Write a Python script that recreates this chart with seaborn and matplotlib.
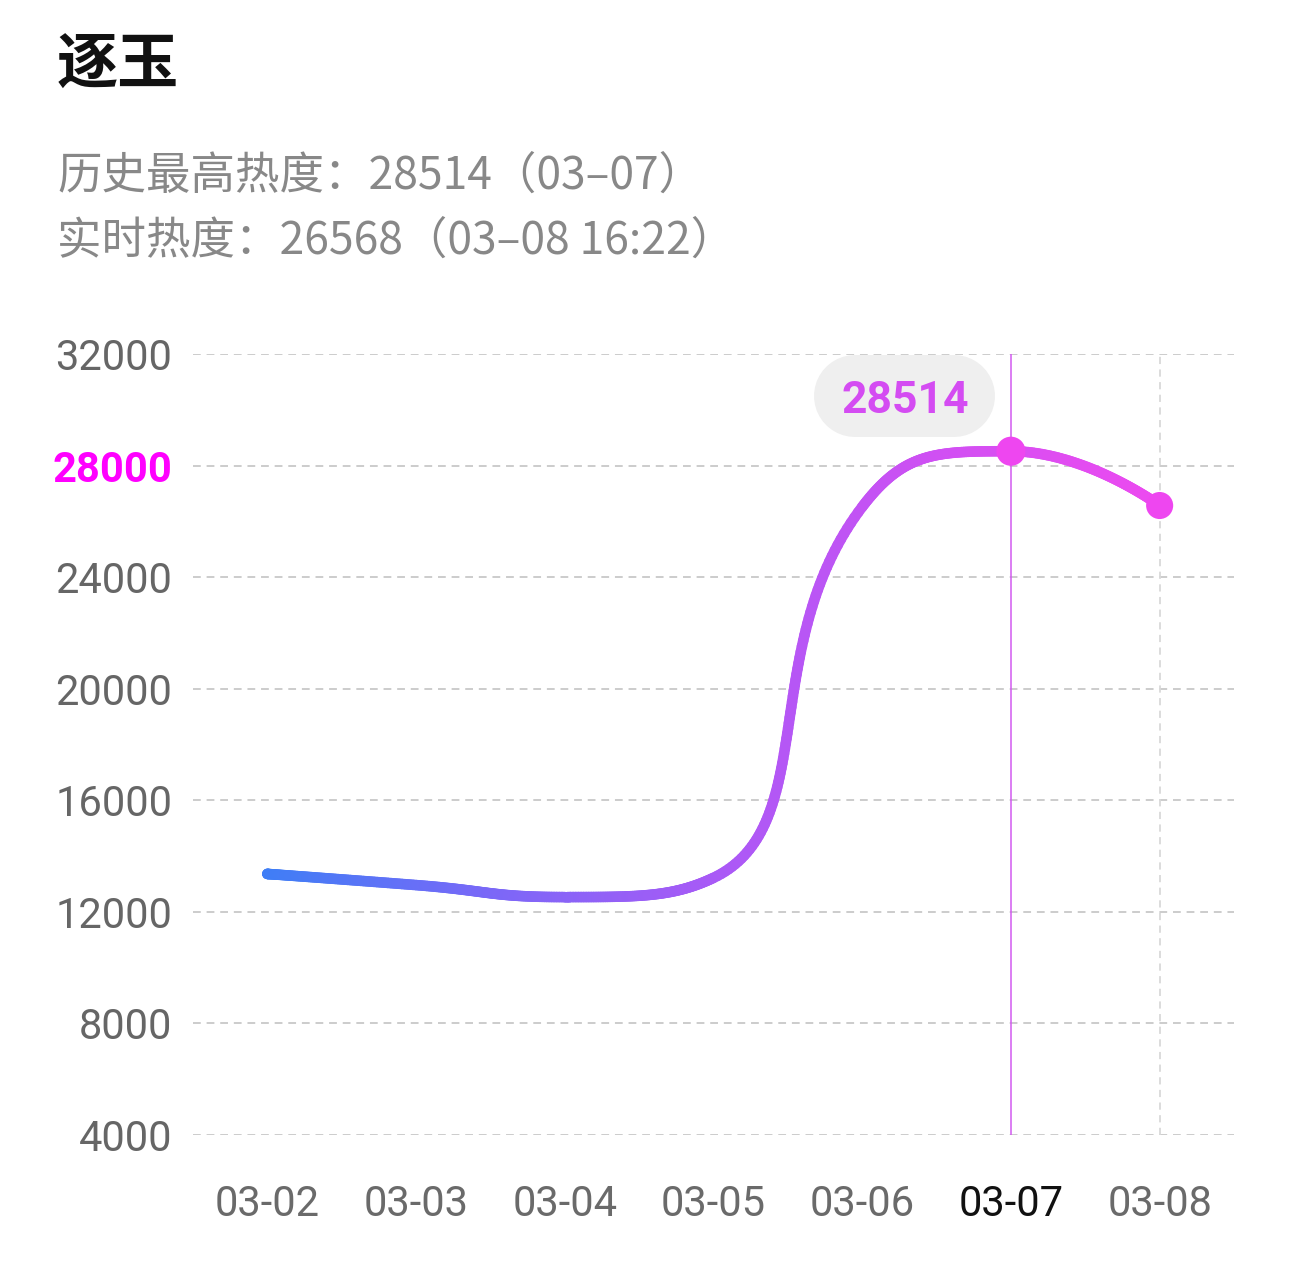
import numpy as np
import pandas as pd
import matplotlib
matplotlib.use("Agg")
import matplotlib.pyplot as plt
import seaborn as sns
from matplotlib.collections import LineCollection
from matplotlib.colors import LinearSegmentedColormap
from matplotlib.lines import Line2D
from matplotlib.transforms import IdentityTransform

# ---------------- data ----------------
dates = ["03-02", "03-03", "03-04", "03-05", "03-06", "03-07", "03-08"]
heat = [13360, 12960, 12530, 13220, 26520, 28514, 26568]
y_ticks = [4000, 8000, 12000, 16000, 20000, 24000, 28000, 32000]
title_text = "逐玉"
sub_line1 = "历史最高热度：28514（03–07）"
sub_line2 = "实时热度：26568（03–08 16:22）"
peak_label = "28514"
peak_date = "03-07"
highlight_tick = 28000

df = pd.DataFrame({"date": dates, "heat": heat})
df["pos"] = np.arange(len(df))

# ---------------- style ----------------
sns.set_theme(style="white")
plt.rcParams["font.family"] = ["Roboto", "Noto Sans CJK SC", "DejaVu Sans"]

W, H = 1290, 1265
fig = plt.figure(figsize=(W / 100, H / 100), dpi=100)
fig.patch.set_facecolor("white")
ax = fig.add_axes([193 / W, 130 / H, 1041 / W, 781 / H])
ax.set_facecolor("white")
ax.set_xlim(-0.5, len(dates) - 0.5)
ax.set_ylim(y_ticks[0], y_ticks[-1])
for s in ax.spines.values():
    s.set_visible(False)

# grid
ax.set_yticks(y_ticks)
ax.yaxis.grid(True, linestyle=(0, (4, 3)), color="#cccccc", linewidth=1.4)
ax.xaxis.grid(False)
ax.set_axisbelow(True)

# vertical guide lines
peak_idx = dates.index(peak_date)
ax.axvline(len(dates) - 1, color="#d9d9d9", linewidth=1.3, linestyle=(0, (4, 3)), zorder=1)
ax.axvline(peak_idx, color="#d25af0", linewidth=1.1, zorder=2)


# ---------------- smooth curve (echarts-like bezier smoothing in pixel space) ----------------
def smooth_bezier(px, smooth=0.5, nsamp=80):
    n = len(px)
    out = []
    cp0 = px[0].copy()
    ncp0 = None
    for i in range(1, n):
        prev = px[i - 1]
        p = px[i]
        if i == n - 1:
            cp1 = p.copy()
        else:
            nxt = px[i + 1]
            v = nxt - prev
            len_prev = np.hypot(*(p - prev))
            len_next = np.hypot(*(nxt - p))
            ratio = len_next / (len_next + len_prev)
            ncp0 = p + v * smooth * ratio
            ncp0 = np.minimum(ncp0, np.maximum(nxt, p))
            ncp0 = np.maximum(ncp0, np.minimum(nxt, p))
            v = ncp0 - p
            cp1 = p - v * len_prev / len_next
            cp1 = np.minimum(cp1, np.maximum(prev, p))
            cp1 = np.maximum(cp1, np.minimum(prev, p))
            v = p - cp1
            ncp0 = p + v * len_next / len_prev
        t = np.linspace(0, 1, nsamp)[:, None]
        b = ((1 - t) ** 3) * prev + 3 * ((1 - t) ** 2) * t * cp0 + 3 * (1 - t) * t ** 2 * cp1 + t ** 3 * p
        out.append(b if i == 1 else b[1:])
        cp0 = ncp0
    return np.vstack(out)


pts_px = ax.transData.transform(np.column_stack([df["pos"], df["heat"]]))
curve_px = smooth_bezier(pts_px)
curve = ax.transData.inverted().transform(curve_px)

cmap = LinearSegmentedColormap.from_list(
    "heat", ["#3f7ef6", "#7a68f7", "#a85af6", "#cf50f3", "#ec4af0"]
)
segs = np.stack([curve[:-1], curve[1:]], axis=1)
cvals = (segs[:, 0, 0] + segs[:, 1, 0]) / 2 / (len(dates) - 1)
lc = LineCollection(segs, colors=cmap(cvals), linewidths=7.6, capstyle="round", zorder=3)
ax.add_collection(lc)

# markers at peak and latest
sns.scatterplot(data=df.iloc[[peak_idx]], x="pos", y="heat", s=440, color="#ee46f0",
                edgecolor="none", ax=ax, zorder=4, legend=False)
sns.scatterplot(data=df.iloc[[len(df) - 1]], x="pos", y="heat", s=380, color="#ee46f0",
                edgecolor="none", ax=ax, zorder=4, legend=False)

# tooltip bubble (pill shape) anchored on the peak point
anchor = ax.transData.transform((peak_idx, heat[peak_idx]))
cx, cy = anchor[0] - 106, anchor[1] + 55
bw, bh = 181, 82
pill = Line2D([cx - (bw - bh) / 2, cx + (bw - bh) / 2], [cy, cy],
              transform=IdentityTransform(), linewidth=bh * 0.72,
              solid_capstyle="round", color="#efefef", zorder=5)
pill.set_clip_on(False)
ax.add_artist(pill)
ax.annotate(peak_label, xy=(peak_idx, heat[peak_idx]), xytext=(-106 * 0.72, 55 * 0.72),
            textcoords="offset points", ha="center", va="center_baseline",
            fontsize=32, fontweight="bold", color="#d44cf2", zorder=6,
            annotation_clip=False)

# ticks
ax.set_xticks(df["pos"])
ax.set_xticklabels(dates)
ax.set_xlabel("")
ax.set_ylabel("")
ax.tick_params(axis="x", length=0, pad=35, labelsize=30, labelcolor="#6a6a6a")
ax.tick_params(axis="y", length=0, pad=15, labelsize=30, labelcolor="#666666")
ax.set_yticklabels([str(v) for v in y_ticks])
for lab, v in zip(ax.get_yticklabels(), y_ticks):
    if v == highlight_tick:
        lab.set_color("#ff00ff")
        lab.set_fontweight("bold")
for lab, d in zip(ax.get_xticklabels(), dates):
    if d == peak_date:
        lab.set_color("#111111")

# header texts
cjk = ["Noto Sans CJK SC", "DejaVu Sans"]
fig.text(57 / W, 1 - 66 / H, title_text, fontsize=44, fontweight="bold", color="#111111",
         ha="left", va="center", family=cjk)
fig.text(57 / W, 1 - 176 / H, sub_line1, fontsize=32, color="#888888",
         ha="left", va="center", family=cjk)
fig.text(57 / W, 1 - 241 / H, sub_line2, fontsize=32, color="#888888",
         ha="left", va="center", family=cjk)

fig.savefig("out.png", dpi=100, facecolor="white")
